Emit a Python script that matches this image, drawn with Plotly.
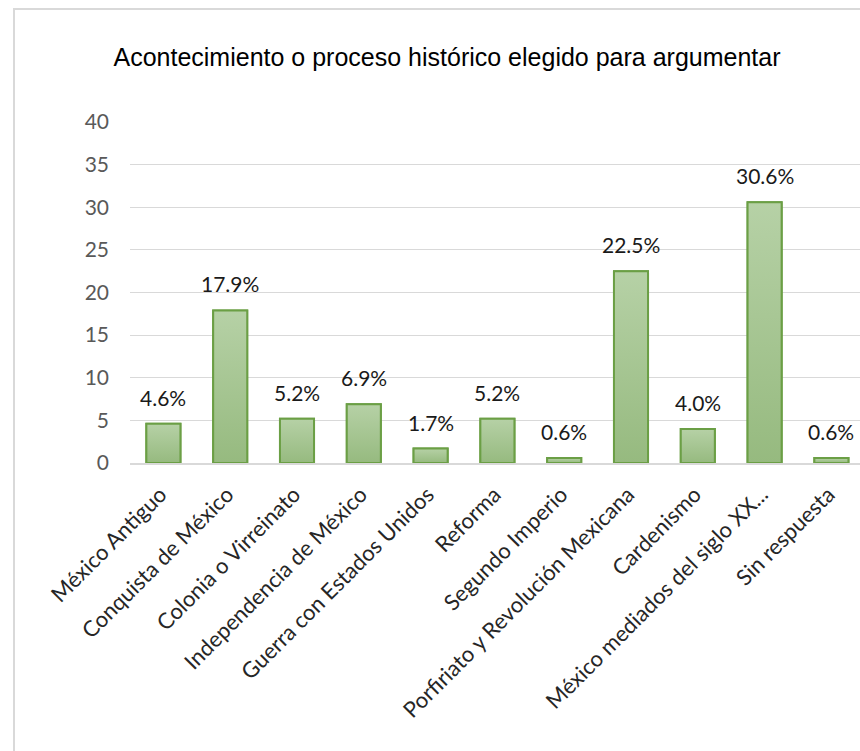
import plotly.graph_objects as go

# Historical event/process chosen by respondents (percent)
categories = [
    "México Antiguo",
    "Conquista de México",
    "Colonia o Virreinato",
    "Independencia de México",
    "Guerra con Estados Unidos",
    "Reforma",
    "Segundo Imperio",
    "Porfiriato y Revolución Mexicana",
    "Cardenismo",
    "México mediados del siglo XX...",
    "Sin respuesta",
]
values = [4.6, 17.9, 5.2, 6.9, 1.7, 5.2, 0.6, 22.5, 4.0, 30.6, 0.6]
y_ticks = [0, 5, 10, 15, 20, 25, 30, 35, 40]

W, H = 860, 751
ML, MR, MT, MB = 130, 0, 122, 288
plot_w = W - ML - MR
plot_h = H - MT - MB
BAR_W = 0.51

LABEL_FONT = "Lato, Carlito, Calibri, sans-serif"
BAR_TOP = "#b6d1a6"
BAR_BOTTOM = "#96ba7f"
BAR_EDGE = "#6b9f45"

fig = go.Figure()

# bar trace (carries the values; the visible fill is drawn below)
fig.add_trace(go.Bar(
    x=list(range(len(categories))),
    y=values,
    width=BAR_W,
    marker=dict(color="rgba(0,0,0,0)", line=dict(color=BAR_EDGE, width=2)),
    hoverinfo="skip",
))

# vertical gradient fill + outline for each bar (light at top, darker at base)
for i, v in enumerate(values):
    x0, x1 = i - BAR_W / 2, i + BAR_W / 2
    fig.add_trace(go.Scatter(
        x=[x0, x1, x1, x0, x0],
        y=[0, 0, v, v, 0],
        mode="lines", line=dict(width=2, color=BAR_EDGE),
        fill="toself",
        fillgradient=dict(
            type="vertical", start=0, stop=v,
            colorscale=[[0, BAR_BOTTOM], [1, BAR_TOP]],
        ),
        hoverinfo="skip",
    ))

# value labels above bars
for i, v in enumerate(values):
    fig.add_annotation(
        x=i, y=v, text=f"{v:.1f}%", showarrow=False,
        xanchor="center", yanchor="bottom", yshift=12,
        font=dict(family=LABEL_FONT, size=21, color="#1a1a1a"),
    )

# light frame around the whole chart area
def px_to_paper_x(px):
    return (px - ML) / plot_w

def px_to_paper_y(py):
    return (H - MB - py) / plot_h

fig.add_shape(
    type="rect", xref="paper", yref="paper",
    x0=px_to_paper_x(14), x1=px_to_paper_x(W + 10),
    y0=px_to_paper_y(H + 10), y1=px_to_paper_y(9),
    line=dict(color="#d9d9d9", width=2), fillcolor="rgba(0,0,0,0)",
    layer="below",
)

fig.update_layout(
    width=W, height=H,
    margin=dict(l=ML, r=MR, t=MT, b=MB, pad=0),
    paper_bgcolor="white", plot_bgcolor="white",
    showlegend=False,
    title=dict(
        text="Acontecimiento o proceso histórico elegido para argumentar",
        x=447 / W, xanchor="center", xref="container",
        y=1 - 57 / H, yanchor="middle", yref="container",
        font=dict(family="Arial, Liberation Sans, sans-serif", size=25, color="#000000"),
    ),
    xaxis=dict(
        tickmode="array",
        tickvals=list(range(len(categories))),
        ticktext=categories,
        tickangle=-45,
        range=[-0.5, -0.5 + plot_w / 66.8],
        showgrid=False, zeroline=False,
        showline=True, linecolor="#d9d9d9", linewidth=2,
        ticks="", ticklabelstandoff=8, ticklabelshift=-3,
        tickfont=dict(family=LABEL_FONT, size=22, color="#262626"),
        fixedrange=True,
    ),
    yaxis=dict(
        range=[0, 40],
        tickmode="array", tickvals=y_ticks,
        showgrid=True, gridcolor="#d9d9d9", gridwidth=1.3,
        zeroline=False, showline=False, ticks="",
        ticklabelstandoff=20,
        tickfont=dict(family=LABEL_FONT, size=21, color="#595959"),
        fixedrange=True,
    ),
    bargap=0.49,
)

fig.write_html("out.html")
